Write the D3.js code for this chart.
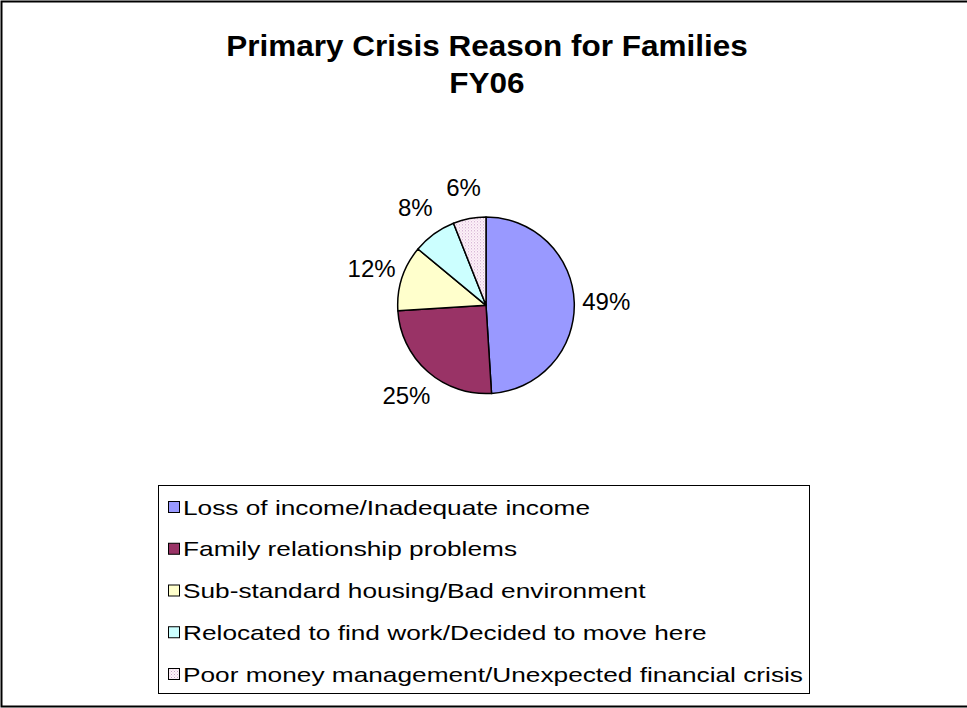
<!DOCTYPE html>
<html>
<head>
<meta charset="utf-8">
<script src="https://cdn.jsdelivr.net/npm/d3@7"></script>
<style>
  html, body { margin: 0; padding: 0; background: #fff; }
  svg { display: block; font-family: "Liberation Sans", Arial, sans-serif; }
</style>
</head>
<body>
<svg id="chart" width="967" height="708"></svg>
<script>
// Primary crisis reasons, FY06 (percent of families)
const categories = [
  "Loss of income/Inadequate income",
  "Family relationship problems",
  "Sub-standard housing/Bad environment",
  "Relocated to find work/Decided to move here",
  "Poor money management/Unexpected financial crisis"
];
const values = [49, 25, 12, 8, 6];
const titleLines = ["Primary Crisis Reason for Families", "FY06"];

const colors = ["#9999FF", "#993366", "#FFFFCC", "#CCFFFF", "url(#dots)"];

const W = 967, H = 708;
const svg = d3.select("#chart");

// dotted fill for the last slice
const defs = svg.append("defs");
const pat = defs.append("pattern")
  .attr("id", "dots").attr("patternUnits", "userSpaceOnUse")
  .attr("width", 3).attr("height", 3);
pat.append("rect").attr("width", 3).attr("height", 3).attr("fill", "#FFF4FA");
pat.append("rect").attr("x", 0).attr("y", 0).attr("width", 1).attr("height", 1).attr("fill", "#C8A0C8");
pat.append("rect").attr("x", 1.5).attr("y", 1.5).attr("width", 1).attr("height", 1).attr("fill", "#D8B8D8");

// outer frame (right side runs off the canvas)
svg.append("rect")
  .attr("x", 1.5).attr("y", 1.5).attr("width", W + 10).attr("height", 705)
  .attr("fill", "#fff").attr("stroke", "#000").attr("stroke-width", 2);

// title (slightly widened glyphs)
const titleX = 487;
svg.append("g")
  .attr("transform", `translate(${titleX},0) scale(1.05,1)`)
  .append("text")
  .attr("text-anchor", "middle")
  .attr("font-size", 30).attr("font-weight", "bold")
  .selectAll("tspan").data(titleLines).join("tspan")
  .attr("x", 0).attr("y", (d, i) => 56 + i * 37)
  .text(d => d);

// pie
const cx = 486, cy = 305.3, r = 88.3;
const pie = d3.pie().sort(null).value(d => d)(values);
const arc = d3.arc().innerRadius(0).outerRadius(r);
const g = svg.append("g").attr("transform", `translate(${cx},${cy})`);

g.selectAll("path").data(pie).join("path")
  .attr("d", arc)
  .attr("fill", (d, i) => colors[i])
  .attr("stroke", "#000").attr("stroke-width", 1.5)
  .attr("stroke-linejoin", "round");

// percentage labels: centred on the slice's mid-angle, outside the rim
const fs = 24, labelR = r + 32, digitH = 17;
const labelArc = d3.arc().innerRadius(labelR).outerRadius(labelR);
g.selectAll("text.lbl").data(pie).join("text")
  .attr("class", "lbl")
  .attr("font-size", fs)
  .attr("text-anchor", "middle")
  .attr("x", d => labelArc.centroid(d)[0])
  .attr("y", d => labelArc.centroid(d)[1] + digitH / 2)
  .text(d => d.data + "%");

// legend
const lx = 158.5, ly = 485.5, lw = 651, lh = 208;
const leg = svg.append("g");
leg.append("rect")
  .attr("x", lx).attr("y", ly).attr("width", lw).attr("height", lh)
  .attr("fill", "#fff").attr("stroke", "#000").attr("stroke-width", 1);

const rowY = d3.scalePoint().domain(d3.range(categories.length)).range([507, 674]);
const items = leg.selectAll("g.item").data(categories).join("g")
  .attr("class", "item")
  .attr("transform", (d, i) => `translate(0,${rowY(i)})`);
items.append("rect")
  .attr("x", 168.5).attr("y", -5.5).attr("width", 11).attr("height", 11)
  .attr("fill", (d, i) => colors[i])
  .attr("stroke", "#000").attr("stroke-width", 1);
items.append("g")
  .attr("transform", "translate(183,7.5) scale(1.25,1)")
  .append("text")
  .attr("font-size", 21)
  .text(d => d);
</script>
</body>
</html>
